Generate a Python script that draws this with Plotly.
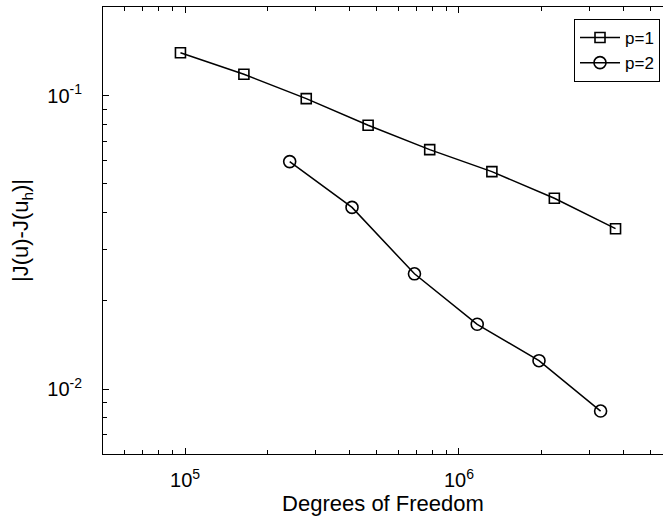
import plotly.graph_objects as go

# Data
dof_p1 = [9.62e4, 1.64e5, 2.77e5, 4.66e5, 7.82e5, 1.319e6, 2.23e6, 3.73e6]
err_p1 = [0.1401, 0.1183, 0.0977, 0.0793, 0.0655, 0.0551, 0.0447, 0.0352]
dof_p2 = [2.41e5, 4.07e5, 6.88e5, 1.166e6, 1.96e6, 3.29e6]
err_p2 = [0.0596, 0.0416, 0.0247, 0.01662, 0.01249, 0.00841]

x_tickvals = [1e5, 1e6]
x_ticktext = ["10<sup>5</sup>", "10<sup>6</sup>"]
y_tickvals = [1e-2, 1e-1]
y_ticktext = ["10<sup>-2</sup>", "10<sup>-1</sup>"]

FONT = "Liberation Sans, Arial, Helvetica, sans-serif"

fig = go.Figure()
fig.add_trace(go.Scatter(
    x=dof_p1, y=err_p1, name="p=1", mode="lines+markers",
    line=dict(color="black", width=1.5),
    marker=dict(symbol="square-open", size=10, color="black", line=dict(width=1.6, color="black")),
))
fig.add_trace(go.Scatter(
    x=dof_p2, y=err_p2, name="p=2", mode="lines+markers",
    line=dict(color="black", width=1.5),
    marker=dict(symbol="circle-open", size=12, color="black", line=dict(width=1.6, color="black")),
))

W, H = 663, 521
ml, mr, mt, mb = 103, 0, 7, 67

fig.update_layout(
    width=W, height=H,
    margin=dict(l=ml, r=mr, t=mt, b=mb, pad=0, autoexpand=False),
    paper_bgcolor="white", plot_bgcolor="white",
    font=dict(family=FONT, size=20, color="black"),
    showlegend=True,
    legend=dict(
        x=(660 - ml) / (W - ml - mr), xanchor="right",
        y=1 - (19 - mt) / (H - mt - mb), yanchor="top",
        bordercolor="black", borderwidth=1, bgcolor="white",
        font=dict(size=17), itemwidth=40, tracegroupgap=0,
    ),
    xaxis=dict(
        type="log", range=[4.7004, 6.745], automargin=False,
        tickvals=x_tickvals, ticktext=x_ticktext,
        ticks="inside", ticklen=6, tickwidth=1, tickcolor="black",
        minor=dict(ticks="inside", ticklen=4, tickwidth=1, tickcolor="black", dtick="D1", showgrid=False),
        showline=True, linecolor="black", linewidth=1, mirror="ticks",
        showgrid=False, zeroline=False,
        ticklabelstandoff=8,
        title=dict(text="Degrees of Freedom", font=dict(size=22), standoff=2),
    ),
    yaxis=dict(
        type="log", range=[-2.2216, -0.6976], automargin=False,
        tickvals=y_tickvals, ticktext=y_ticktext,
        ticks="inside", ticklen=6, tickwidth=1, tickcolor="black",
        minor=dict(ticks="inside", ticklen=4, tickwidth=1, tickcolor="black", dtick="D1", showgrid=False),
        showline=True, linecolor="black", linewidth=1, mirror=False,
        showgrid=False, zeroline=False,
        ticklabelstandoff=16,
        title=dict(text="|J(u)-J(u<sub>h</sub>)|", font=dict(size=22), standoff=12),
    ),
)

fig.write_html(
    "out.html",
    config={"displayModeBar": False},
    post_script="document.body.style.margin='0';document.body.style.overflow='hidden';",
)
